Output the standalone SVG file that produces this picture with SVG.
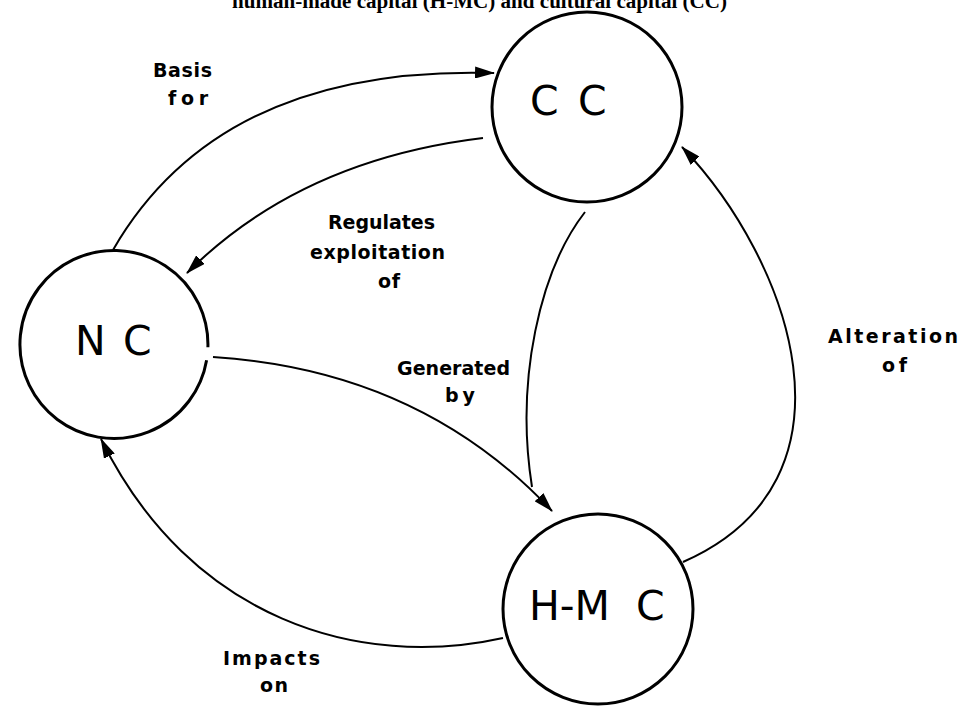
<svg xmlns="http://www.w3.org/2000/svg" width="963" height="709" viewBox="0 0 963 709">
<style>
.node{fill:#fff;stroke:#000;stroke-width:3}
.nlab{font-family:"DejaVu Sans","Liberation Sans",sans-serif;font-size:41px;fill:#000}
.elab{font-family:"DejaVu Sans","Liberation Sans",sans-serif;font-size:19px;font-weight:bold;fill:#000;text-anchor:middle}
.conn{fill:none;stroke:#000;stroke-width:2}
.title{font-family:"Liberation Serif","Times New Roman",serif;font-size:20px;font-weight:bold;fill:#000}
</style>
<defs>
<marker id="ah" markerUnits="userSpaceOnUse" markerWidth="20" markerHeight="12" refX="19" refY="6" orient="auto">
<path d="M0,0 L20,6 L0,12 z" fill="#000"/>
</marker>
</defs>
<rect width="963" height="709" fill="#fff"/>
<text class="title" x="232" y="8" textLength="495" lengthAdjust="spacingAndGlyphs">human-made capital (H-MC) and cultural capital (CC)</text>
<g id="connectors">
<path id="e-basis" class="conn" d="M113,250 Q220,65 494,73" marker-end="url(#ah)"/>
<path id="e-regulates" class="conn" d="M483,138 Q300,160 187,273" marker-end="url(#ah)"/>
<path id="e-generated" class="conn" d="M213,357 Q420,370 552,511" marker-end="url(#ah)"/>
<path id="e-cc-hmc" class="conn" d="M585,212 C540,270 515,380 532,487"/>
<path id="e-alteration" class="conn" d="M683,562 C870,480 790,260 682,147" marker-end="url(#ah)"/>
<path id="e-impacts" class="conn" d="M503,638 C360,670 190,620 101,439" marker-end="url(#ah)"/>
</g>
<g id="labels">
<text class="elab" x="182.5" y="77" textLength="59">Basis</text>
<text class="elab" x="188" y="105" textLength="40">for</text>
<text class="elab" x="381.5" y="229" textLength="107">Regulates</text>
<text class="elab" x="377.5" y="259" textLength="135">exploitation</text>
<text class="elab" x="389" y="288" textLength="22">of</text>
<text class="elab" x="453.5" y="375" textLength="113">Generated</text>
<text class="elab" x="460" y="402" textLength="30">by</text>
<text class="elab" x="893" y="343" textLength="130">Alteration</text>
<text class="elab" x="894.5" y="372" textLength="25">of</text>
<text class="elab" x="271.5" y="665" textLength="97">Impacts</text>
<text class="elab" x="274" y="692" textLength="28">on</text>
</g>
<g id="node-cc">
<circle class="node" cx="587" cy="107" r="95"/>
<text class="nlab" y="115"><tspan x="530">C</tspan><tspan x="578">C</tspan></text>
</g>
<g id="node-nc">
<path class="node" d="M206.6,360.3 A94,94 0 1 1 207.9,347.3"/>
<text class="nlab" y="355"><tspan x="75">N</tspan><tspan x="123">C</tspan></text>
</g>
<g id="node-hmc">
<circle class="node" cx="598" cy="609" r="95"/>
<text class="nlab" y="620"><tspan x="529">H-M</tspan><tspan x="636">C</tspan></text>
</g>
</svg>
